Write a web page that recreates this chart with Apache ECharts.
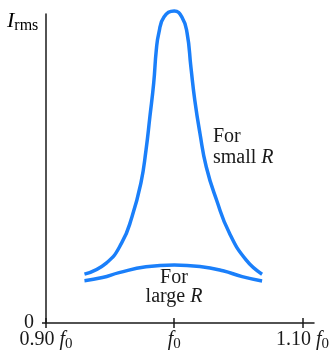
<!DOCTYPE html>
<html>
<head>
<meta charset="utf-8">
<script src="https://cdn.jsdelivr.net/npm/echarts@6/dist/echarts.min.js"></script>
<style>
  html, body { margin: 0; padding: 0; background: #fff; }
  #chart { width: 332px; height: 356px; }
</style>
</head>
<body>
<div id="chart"></div>
<script>
// frequency in units of f0, current in % of the axis height
const smallFreq = [0.930, 0.947, 0.959, 0.967, 0.974, 0.978, 0.981, 0.984, 0.986, 0.988, 0.992, 1.000,
  1.006, 1.010, 1.013, 1.016, 1.020, 1.025, 1.033, 1.043, 1.056, 1.0685];
const smallCurrent = [15.8, 19.4, 25.9, 34.3, 45.3, 56.0, 66.7, 77.7, 88.3, 93.9, 99.0, 101.0,
  99.0, 93.9, 82.8, 72.2, 61.5, 50.5, 39.8, 29.1, 20.4, 15.8];
const largeFreq = [0.930, 0.944, 0.957, 0.978, 1.000, 1.020, 1.038, 1.053, 1.0685];
const largeCurrent = [13.7, 14.7, 16.3, 18.2, 18.8, 18.3, 16.9, 15.0, 13.6];
const tickValues = [0.90, 1.00, 1.10];
const tickNames = ['0.90', '', '1.10'];

const pairs = (xs, ys) => xs.map((x, i) => [x, ys[i]]);

const serif = '"Liberation Serif", "DejaVu Serif", serif';
const ink = '#1a1a1a';
const blue = '#1a7ffa';

const chart = echarts.init(document.getElementById('chart'), null, { renderer: 'canvas' });

const freqLabel = (v) => {
  const i = tickValues.findIndex((t) => Math.abs(t - v) < 1e-6);
  if (i < 0) return '';
  const n = tickNames[i];
  return (n ? '{n|' + n + ' }' : '') + '{f|f}{s|0}';
};

const textRich = {
  n: { fontFamily: serif, fontSize: 20, color: ink, lineHeight: 24, verticalAlign: 'middle' },
  f: { fontFamily: serif, fontSize: 20, fontStyle: 'italic', color: ink, lineHeight: 24, verticalAlign: 'middle' },
  s: { fontFamily: serif, fontSize: 15, color: ink, lineHeight: 15, verticalAlign: 'bottom' }
};

chart.setOption({
  animation: false,
  grid: { left: 46, right: 17, top: 14, bottom: 33 },
  xAxis: [
    {
      type: 'value',
      min: 0.9,
      max: 1.109,
      interval: 0.1,
      axisLine: { show: true, lineStyle: { color: ink, width: 1.5 } },
      axisTick: { show: true, length: 5, customValues: tickValues, lineStyle: { color: ink, width: 1.5 } },
      axisLabel: {
        customValues: tickValues,
        margin: 5,
        formatter: freqLabel,
        rich: textRich
      },
      splitLine: { show: false }
    },
    {
      type: 'value',
      position: 'bottom',
      min: 0.9,
      max: 1.109,
      interval: 0.1,
      axisLine: { show: false },
      axisTick: { show: true, inside: true, length: 5, customValues: tickValues, lineStyle: { color: ink, width: 1.5 } },
      axisLabel: { show: false },
      splitLine: { show: false }
    }
  ],
  yAxis: {
    type: 'value',
    min: 0,
    max: 100,
    axisLine: { show: true, lineStyle: { color: ink, width: 1.5 } },
    axisTick: { show: true, length: 4, customValues: [0], lineStyle: { color: ink, width: 1.5 } },
    axisLabel: {
      customValues: [0],
      margin: 12,
      fontFamily: serif,
      fontSize: 20,
      color: ink
    },
    splitLine: { show: false }
  },
  graphic: [
    {
      type: 'text',
      left: 7,
      top: 10,
      style: {
        text: '{i|I}{r|rms}',
        rich: {
          i: { fontFamily: serif, fontSize: 22, fontStyle: 'italic', color: ink, lineHeight: 26, verticalAlign: 'middle' },
          r: { fontFamily: serif, fontSize: 16, color: ink, lineHeight: 16, verticalAlign: 'bottom' }
        }
      }
    },
    {
      type: 'text',
      left: 213,
      top: 127,
      style: {
        text: '{r|For}\n{r|small }{i|R}',
        fill: ink,
        rich: {
          r: { fontFamily: serif, fontSize: 20, lineHeight: 21 },
          i: { fontFamily: serif, fontSize: 20, fontStyle: 'italic', lineHeight: 21 }
        }
      }
    },
    {
      type: 'text',
      x: 174,
      y: 268,
      style: {
        text: '{r|For}\n{r|large }{i|R}',
        align: 'center',
        fill: ink,
        rich: {
          r: { fontFamily: serif, fontSize: 20, lineHeight: 19 },
          i: { fontFamily: serif, fontSize: 20, fontStyle: 'italic', lineHeight: 19 }
        }
      }
    }
  ],
  series: [
    {
      type: 'line',
      name: 'small R',
      data: pairs(smallFreq, smallCurrent),
      smooth: 0.5,
      symbol: 'none',
      clip: false,
      lineStyle: { color: blue, width: 3.5 }
    },
    {
      type: 'line',
      name: 'large R',
      data: pairs(largeFreq, largeCurrent),
      smooth: 0.5,
      symbol: 'none',
      clip: false,
      lineStyle: { color: blue, width: 3.5 }
    }
  ]
});
</script>
</body>
</html>
